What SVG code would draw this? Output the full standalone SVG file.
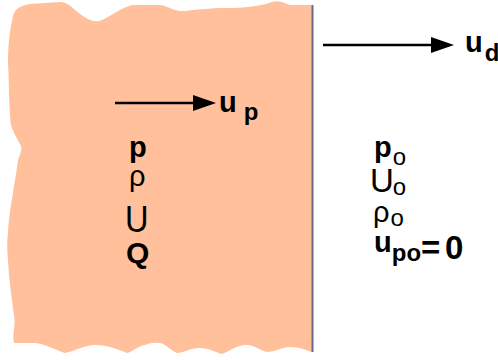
<svg xmlns="http://www.w3.org/2000/svg" width="498" height="360" viewBox="0 0 498 360">
<style>
.b{font-family:"Liberation Sans",Arial,sans-serif;font-weight:bold;fill:#000}
.r{font-family:"Liberation Sans",Arial,sans-serif;font-weight:normal;fill:#000}
.ar{stroke:#000;stroke-width:2.6;fill:none}
.hd{fill:#000}
</style>
<g id="region">
<path d="M13,16 C15,8 22,5 30,4 L60,2 C68,2 72,8 80,14 C88,20 95,23 102,20 C110,17 120,8 132,5 L160,5 C168,6 175,12 185,11 C195,10 210,8 225,8 C245,8 260,6 272,2 C278,0 282,2 290,5 L312,5 L312,352 C305,350 300,347 290,347 C282,347 275,352 267,352 C260,350 252,344 245,345 C235,346 228,352 222,354 C215,352 208,348 200,348 C190,348 183,353 177,353 C170,350 166,344 160,343 C152,342 148,344 145,345 C138,346 132,352 127,353 C120,350 108,345 95,345 C85,345 75,351 65,353 C55,350 45,344 35,343 L14,343 C12,335 16,325 14,315 C12,300 9,280 8,260 C7,250 7,240 8,233 C9,215 11,205 13,193 C15,180 17,168 18,160 C20,155 22,150 21,146 C18,140 13,132 11,125 C9,110 9,80 8,62 C8,40 11,25 13,16 Z" fill="#FFC09B"/>
<line x1="312.5" y1="5" x2="312.5" y2="352" stroke="#6B6B88" stroke-width="2"/>
</g>
<g id="connectors">
<line class="ar" x1="115" y1="103" x2="196" y2="103"/>
<path class="hd" d="M193,95 L216,103 L193,111 Z"/>
<line class="ar" x1="323" y1="45" x2="434" y2="45"/>
<path class="hd" d="M431,37 L454,45 L431,53 Z"/>
</g>
<g id="label-up"><text class="b" x="219" y="112" font-size="29">u<tspan font-size="24" dx="7" dy="8">p</tspan></text></g>
<g id="label-ud"><text class="b" x="465" y="52" font-size="29">u<tspan font-size="24" dx="2" dy="9">d</tspan></text></g>
<g id="left-props">
<text class="b" x="129" y="157" font-size="29">p</text>
<text class="r" x="129" y="186" font-size="29">ρ</text>
<text class="r" x="125" y="232" font-size="37" transform="translate(125 0) scale(0.88 1) translate(-125 0)">U</text>
<text class="b" x="126" y="263" font-size="30">Q</text>
</g>
<g id="right-props">
<text class="b" x="374" y="157" font-size="29">p<tspan class="r" font-size="24" dx="1" dy="8">o</tspan></text>
<text class="r" x="370" y="192" font-size="33">U<tspan font-size="24" dx="-1" dy="3">o</tspan></text>
<text class="r" x="373" y="222" font-size="29">ρ<tspan font-size="24" dx="1" dy="4">o</tspan></text>
<text class="b" x="374" y="252" font-size="29">u<tspan font-size="24" dy="9">po</tspan></text>
<text class="b" x="421" y="259" font-size="33">=</text>
<text class="b" x="445" y="259" font-size="33">0</text>
</g>
</svg>
